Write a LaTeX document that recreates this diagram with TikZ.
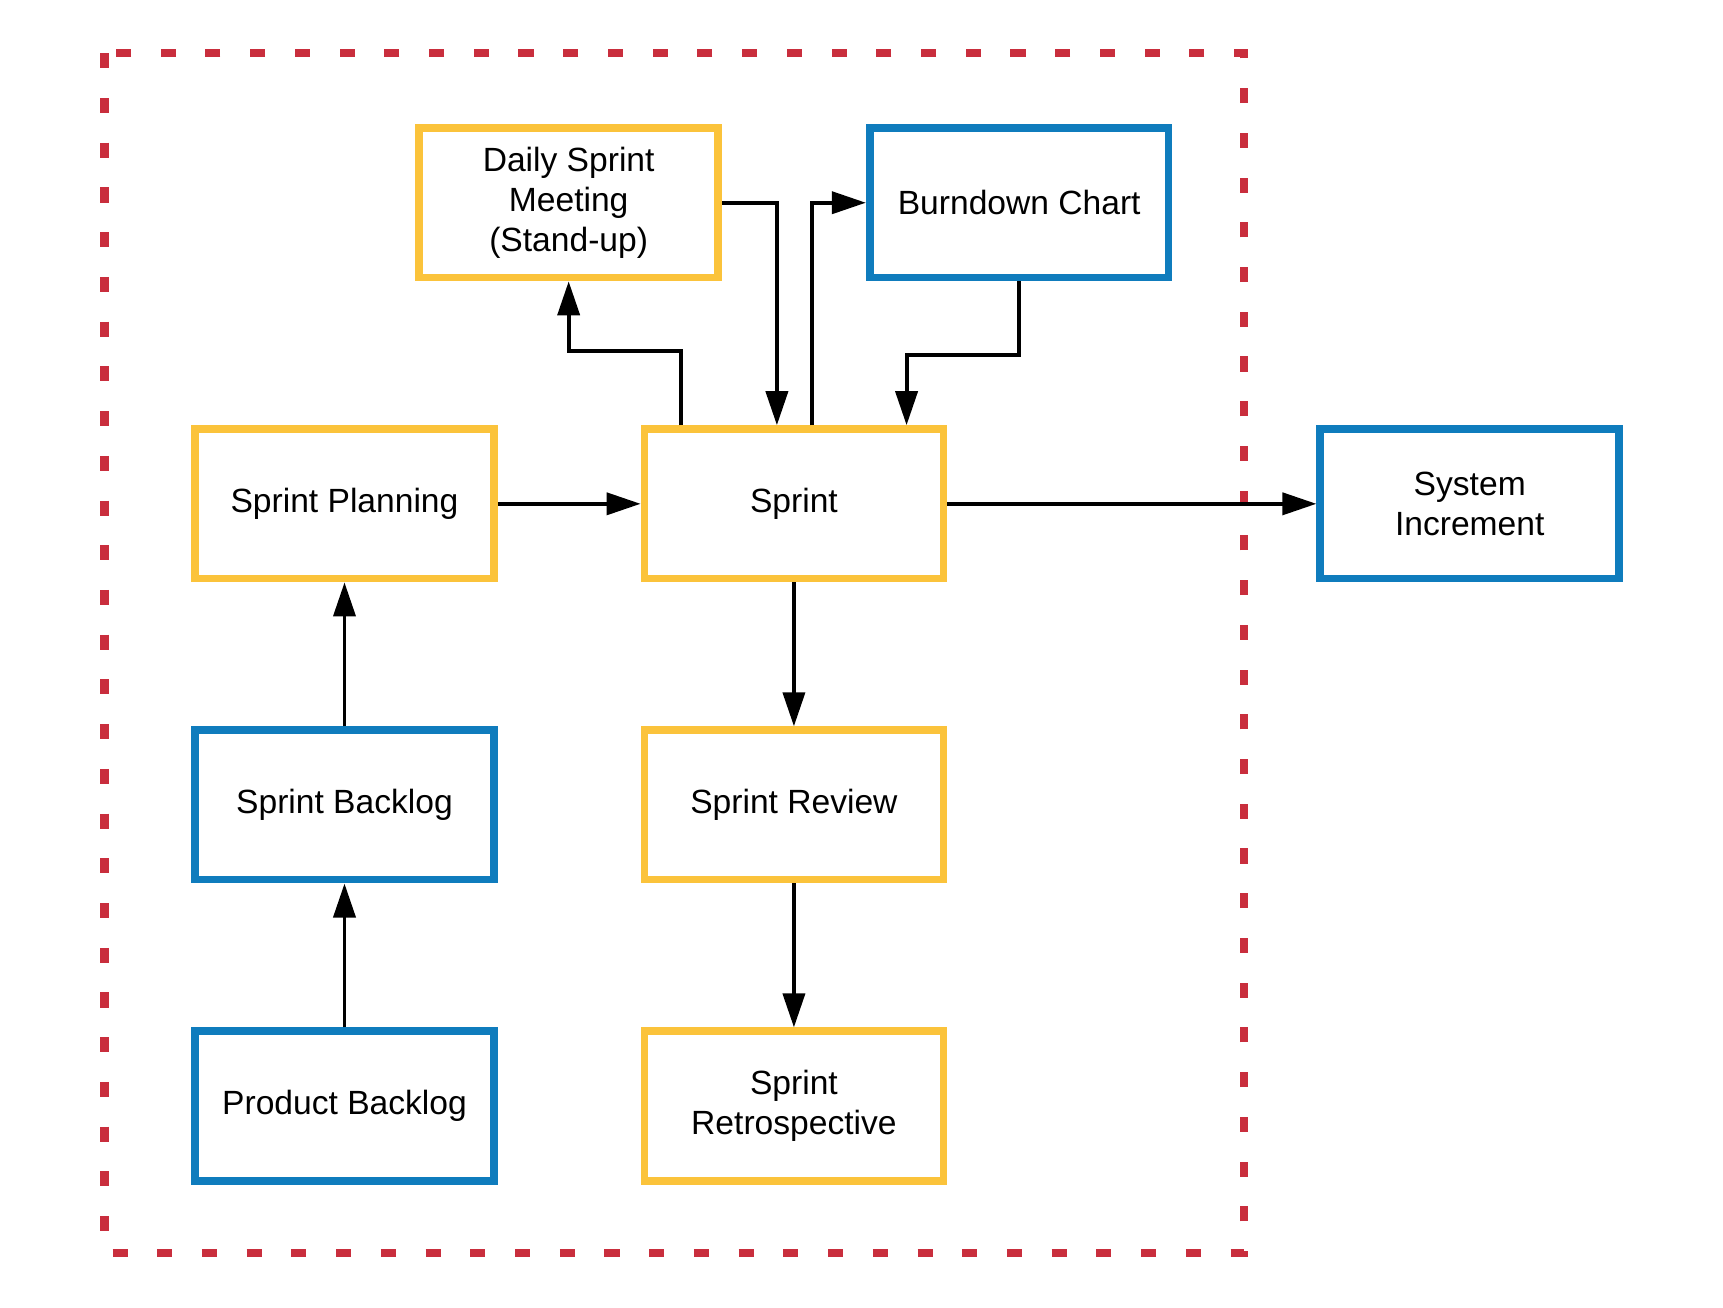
\documentclass[tikz,border=0pt]{standalone}
\usepackage{fontspec}
\setmainfont{Liberation Sans}
\usetikzlibrary{arrows.meta,positioning}
\definecolor{ScrumYellow}{HTML}{FBC33B}
\definecolor{ScrumBlue}{HTML}{0F7CBD}
\definecolor{ScrumRed}{HTML}{C92E3D}

\begin{document}
\begin{tikzpicture}[node distance=1.31cm and 1.3cm,>={Triangle[length=0.31cm,width=0.2cm]},
 event/.style={draw=ScrumYellow,line width=0.07cm,minimum width=2.72cm,
              minimum height=1.36cm,align=center,font=\fontsize{8.7}{10.4}\selectfont},
 artifact/.style={event,draw=ScrumBlue},
 flow/.style={->,line width=0.036cm},
 boundary/.style={draw=ScrumRed,line width=0.075cm,dash pattern=on 0.137cm off 0.27cm}]
\useasboundingbox (0,0) rectangle (15.68,-11.9);
\draw[boundary] (0.95,-0.485) rectangle (11.32,-11.4);
\node[event] (sprint) at (7.225,-4.585) {Sprint};
\node[event,left=of sprint] (plan) {Sprint Planning};
\node[artifact,below=of plan] (sbacklog) {Sprint Backlog};
\node[artifact,below=of sbacklog] (pbacklog) {Product Backlog};
\node[event,below=of sprint] (review) {Sprint Review};
\node[event,below=of review] (retro) {Sprint\\Retrospective};
\node[event,above=1.31cm of sprint,xshift=-2.05cm] (daily) {Daily Sprint\\Meeting\\(Stand-up)};
\node[artifact,above=1.31cm of sprint,xshift=2.05cm] (burndown) {Burndown Chart};
\node[artifact,right=3.36cm of sprint] (increment) {System\\Increment};
\draw[flow] (pbacklog)--(sbacklog);
\draw[flow] (sbacklog)--(plan);
\draw[flow] (plan)--(sprint);
\draw[flow] (sprint)--(increment);
\draw[flow] (sprint)--(review);
\draw[flow] (review)--(retro);
\draw[flow] (daily.east) -| ([xshift=-0.155cm]sprint.north);
\draw[flow] ([xshift=-1.025cm]sprint.north) -- ++(0,0.68) -| (daily.south);
\draw[flow] ([xshift=0.165cm]sprint.north) |- (burndown.west);
\draw[flow] (burndown.south) -- ++(0,-0.67) -| ([xshift=1.025cm]sprint.north);
\end{tikzpicture}
\end{document}
